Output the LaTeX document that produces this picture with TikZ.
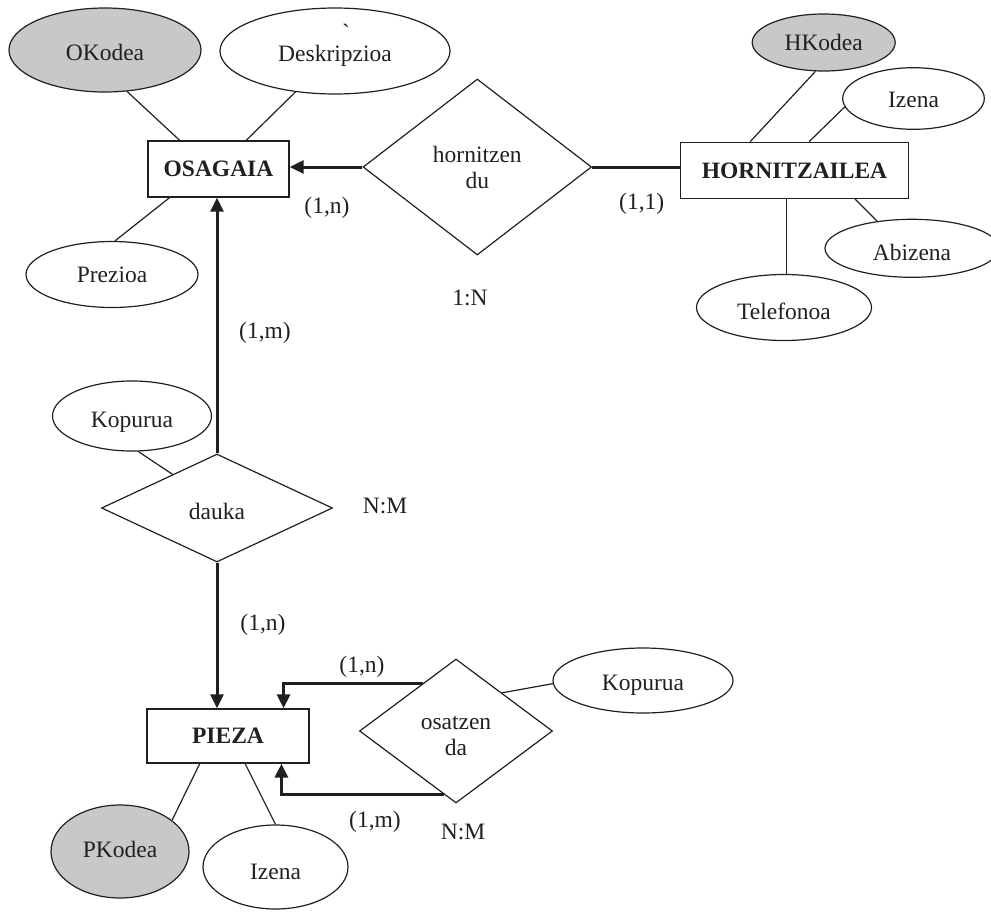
\documentclass[tikz,border=0pt]{standalone}
\usepackage{fontspec}
\setmainfont{Liberation Serif}
\newfontfamily\plainserif{Liberation Serif}
\usetikzlibrary{shapes.geometric,arrows.meta,calc}
\definecolor{ink}{RGB}{35,31,32}
\definecolor{keyfill}{RGB}{199,200,202}
\begin{document}
\begin{tikzpicture}[x=1pt,y=-1pt,
  font=\fontsize{23.5}{26}\selectfont, text=ink,
  entity/.style={draw=ink,line width=1.4pt,rectangle,inner sep=0pt,
    text height=15.5pt,text depth=0pt,
    font=\fontsize{23.5}{26}\selectfont\bfseries},
  attr/.style={draw=ink,line width=1.2pt,ellipse,inner sep=0pt,
    text height=15.2pt,text depth=0pt},
  keyattr/.style={attr,fill=keyfill},
  rel/.style={draw=ink,line width=1.2pt,diamond,inner sep=0pt,align=center},
  link/.style={draw=ink,line width=1.2pt},
  card/.style={inner sep=0pt},
  strong/.style={draw=ink,line width=3pt},
  toent/.style={strong,-{Triangle[length=14pt,width=13pt]}}]

\useasboundingbox (0,0) rectangle (991,913);

% entities
\node[entity,minimum width=141pt,minimum height=56pt] (osagaia) at (218.5,169) {OSAGAIA};
\node[entity,minimum width=228pt,minimum height=56pt] (hornitzailea) at (794.5,170.3) {HORNITZAILEA};
\node[entity,minimum width=162pt,minimum height=54pt] (pieza) at (228,736) {PIEZA};

% attributes
\node[keyattr,minimum width=192pt,minimum height=84pt,text height=20.2pt] (okodea) at (105,50) {OKodea};
\node[attr,minimum width=230pt,minimum height=86pt,text height=21.2pt] (deskr) at (335,51) {Deskripzioa};
\node[anchor=base,inner sep=0pt] (grave) at (346,40) {\plainserif `};
\node[attr,minimum width=172pt,minimum height=66pt,text height=16.2pt] (prezioa) at (112,274.5) {Prezioa};
\node[keyattr,minimum width=143pt,minimum height=57pt] (hkodea) at (823.7,42.5) {HKodea};
\node[attr,minimum width=141.6pt,minimum height=61.6pt,text height=17.2pt] (izenah) at (913.5,98.5) {Izena};
\node[attr,minimum width=174pt,minimum height=58pt,text height=25.2pt] (abizena) at (912,248.3) {Abizena};
\node[attr,minimum width=175pt,minimum height=66pt,text height=23.2pt] (telefonoa) at (784,307.5) {Telefonoa};
\node[attr,minimum width=159pt,minimum height=70pt,text height=22.2pt] (kopd) at (132,416) {Kopurua};
\node[attr,minimum width=180pt,minimum height=65pt,text height=19.2pt] (kopo) at (643,680.5) {Kopurua};
\node[keyattr,minimum width=138pt,minimum height=93pt,text height=12.2pt] (pkodea) at (120,851.5) {PKodea};
\node[attr,minimum width=145pt,minimum height=84pt,text height=25.2pt] (izenap) at (275.5,867) {Izena};

% relationships (two-line labels sit on their last baseline)
\node[rel,minimum width=228.6pt,minimum height=176pt,text height=42.6pt,text depth=0pt] (hornitzen) at (477.3,167) {hornitzen\\du};
\node[rel,minimum width=231pt,minimum height=108pt,text height=22.6pt,text depth=0pt] (dauka) at (217,508) {dauka};
\node[rel,minimum width=193pt,minimum height=144pt,text height=48pt,text depth=0pt] (osatzen) at (456,731) {osatzen\\da};

% relationship connectors
\draw[toent] (hornitzen.west) -- (hornitzen.west -| osagaia.east);
\draw[strong] (hornitzen.east) -- (hornitzen.east -| hornitzailea.west);
\draw[toent] (dauka.north) -- (dauka.north |- osagaia.south);
\draw[toent] (dauka.south) -- (dauka.south |- pieza.north);
\coordinate (osU) at ($(osatzen.west)!0.656!(osatzen.north)$);
\coordinate (osL) at ($(osatzen.west)!0.876!(osatzen.south)$);
\coordinate (pzT) at ($(pieza.north west)!0.84!(pieza.north east)$);
\coordinate (pzB) at ($(pieza.south west)!0.827!(pieza.south east)$);
\draw[toent] (osU) -| (pzT);
\draw[toent] (osL) -| (pzB);

% attribute links
\draw[link] (okodea.-62) -- ($(osagaia.north west)!0.227!(osagaia.north east)$);
\draw[link] (deskr.-134) -- ($(osagaia.north west)!0.695!(osagaia.north east)$);
\draw[link] ($(osagaia.south west)!0.156!(osagaia.south east)$) -- (prezioa.85);
\draw[link] (hkodea.-106.6) -- ($(hornitzailea.north west)!0.307!(hornitzailea.north east)$);
\draw[link] (izenah.187) -- ($(hornitzailea.north west)!0.564!(hornitzailea.north east)$);
\draw[link] ($(hornitzailea.south west)!0.764!(hornitzailea.south east)$) -- (abizena.142.8);
\coordinate (telTop) at ($(hornitzailea.south west)!0.465!(hornitzailea.south east)$);
\draw[link] (telTop) -- (telTop |- telefonoa.north);
\draw[link] (kopd.-80) -- ($(dauka.west)!0.617!(dauka.north)$);
\draw[link] ($(osatzen.north)!0.474!(osatzen.east)$) -- (kopo.182);
\draw[link] ($(pieza.south west)!0.327!(pieza.south east)$) -- (pkodea.31);
\draw[link] ($(pieza.south west)!0.605!(pieza.south east)$) -- (izenap.north);

% cardinalities
\node[card] (c1) at (327,208) {(1,n)};
\node[card] (c2) at (641.7,204) {(1,1)};
\node[card] (c3) at (470,298) {1:N};
\node[card] (c4) at (265,333) {(1,m)};
\node[card] (c5) at (385,505.5) {N:M};
\node[card] (c6) at (263,625) {(1,n)};
\node[card] (c7) at (362,667) {(1,n)};
\node[card] (c8) at (375,822) {(1,m)};
\node[card] (c9) at (463,832) {N:M};
\end{tikzpicture}
\end{document}
